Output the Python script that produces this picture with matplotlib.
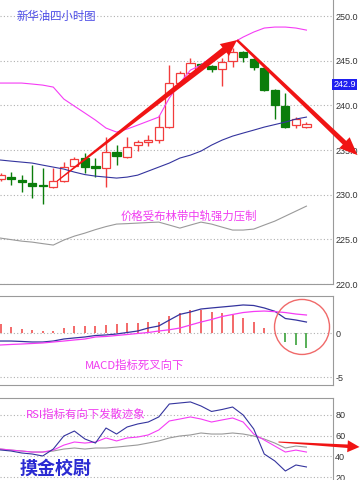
import matplotlib
matplotlib.use("Agg")
import matplotlib.pyplot as plt
import numpy as np
from matplotlib.patches import Polygon, Circle
from matplotlib.transforms import IdentityTransform, blended_transform_factory

plt.rcParams['font.family'] = ['Noto Sans CJK SC', 'DejaVu Sans']

# 4-hour candles
opens = [231.75, 231.97, 231.63, 231.30, 231.00, 230.85, 231.52, 233.20, 234.10, 233.20,
         232.98, 234.77, 234.21, 235.55, 235.89, 236.11, 237.57, 242.50, 243.62, 244.62,
         244.40, 244.06, 244.96, 245.97, 245.18, 244.18, 241.71, 239.92, 237.79, 237.57]
highs = [232.42, 232.53, 232.19, 233.31, 232.98, 232.98, 233.65, 234.20, 234.66, 234.10,
         236.45, 235.55, 236.45, 236.11, 236.67, 238.91, 244.51, 243.80, 245.30, 244.80,
         244.50, 245.30, 246.42, 246.10, 245.30, 244.30, 241.80, 241.38, 238.69, 238.13]
lows = [231.52, 231.08, 230.29, 229.62, 228.95, 230.74, 231.41, 233.10, 232.42, 231.97,
        230.85, 233.31, 234.10, 234.88, 235.44, 235.78, 237.46, 242.40, 243.50, 244.30,
        243.73, 242.16, 244.29, 244.85, 243.95, 241.60, 238.47, 237.46, 237.46, 237.46]
closes = [232.19, 231.75, 231.41, 230.96, 230.96, 231.52, 233.09, 233.99, 233.09, 232.98,
          234.77, 234.32, 235.33, 235.89, 236.11, 237.57, 242.50, 243.62, 244.74, 244.40,
          244.06, 244.85, 245.97, 245.41, 244.29, 241.71, 240.03, 237.57, 238.47, 237.91]

# bollinger bands
boll_upper = [242.50, 242.50, 242.50, 242.39, 242.27, 242.05, 240.71, 239.92, 239.14, 238.35,
              237.46, 237.01, 237.35, 237.79, 238.24, 238.69, 240.82, 242.50, 243.95, 244.51,
              245.41, 246.19, 246.98, 247.65, 248.21, 248.66, 248.77, 248.77, 248.66, 248.43]
boll_mid = [233.88, 233.76, 233.65, 233.54, 233.31, 233.09, 232.87, 232.53, 232.25, 232.08,
            231.97, 231.86, 231.97, 232.19, 232.64, 233.09, 233.54, 234.10, 234.43, 234.88,
            235.55, 236.11, 236.56, 236.90, 237.23, 237.57, 237.85, 238.13, 238.47, 238.69]
boll_lower = [225.14, 224.97, 224.80, 224.69, 224.52, 224.36, 224.92, 225.36, 225.70, 226.09,
              226.43, 226.71, 226.76, 226.82, 226.88, 226.93, 226.60, 226.26, 226.60, 226.93,
              226.71, 226.37, 226.04, 226.04, 226.15, 226.60, 227.04, 227.60, 228.16, 228.72]

# MACD
macd_hist = [1.00, 0.72, 0.49, 0.38, 0.26, 0.26, 0.60, 0.83, 0.83, 0.83,
             0.94, 1.06, 1.17, 1.17, 1.28, 1.28, 1.97, 2.30, 2.65, 2.65,
             2.42, 2.30, 2.08, 1.74, 1.28, 0.60, 0.05, -0.99, -1.33, -1.67]
macd_dif = [-0.88, -0.88, -0.93, -0.99, -0.99, -0.88, -0.65, -0.53, -0.42, -0.25,
            -0.19, -0.08, 0.09, 0.26, 0.60, 0.83, 1.50, 2.15, 2.42, 2.76,
            2.88, 2.99, 3.10, 3.22, 3.16, 2.88, 2.50, 1.68, 1.51, 1.28]
macd_dea = [-1.33, -1.27, -1.22, -1.16, -1.10, -0.99, -0.88, -0.76, -0.65, -0.42,
            -0.36, -0.25, -0.14, -0.02, 0.09, 0.26, 0.40, 0.60, 0.94, 1.28,
            1.57, 1.91, 2.14, 2.36, 2.48, 2.53, 2.46, 2.36, 2.19, 2.08]

# RSI
rsi6 = [46.2, 45.2, 43.3, 42.3, 40.4, 47.1, 59.7, 64.5, 56.8, 52.9,
        67.4, 61.6, 68.4, 71.3, 73.2, 78.1, 90.6, 91.6, 92.6, 88.7,
        83.4, 85.3, 87.7, 80.0, 66.5, 42.3, 35.6, 25.9, 31.7, 29.8]
rsi12 = [47.1, 46.1, 45.2, 44.2, 44.2, 46.1, 50.9, 53.9, 52.9, 53.9,
         57.8, 54.9, 57.8, 58.7, 60.7, 65.5, 74.2, 76.1, 78.1, 76.1,
         73.2, 75.2, 77.1, 73.2, 61.6, 55.8, 50.0, 44.2, 46.1, 44.2]
rsi24 = [47.1, 46.1, 45.2, 44.2, 44.2, 45.2, 47.1, 48.1, 47.1, 48.1,
         48.1, 49.0, 50.0, 51.0, 52.9, 54.9, 57.8, 59.7, 60.7, 62.6,
         61.6, 61.6, 62.6, 61.6, 59.7, 56.8, 52.9, 48.1, 50.0, 49.0]

price_ticks = [220, 225, 230, 235, 240, 245, 250]
macd_ticks = [-5, 0]
rsi_ticks = [20, 40, 60, 80]
last_price = 242.33
last_price_label = "242.9"

RED = '#f23c3c'
GREEN = '#0b7d0b'
MAG = '#f53cf5'
NAVY = '#34349e'
GREY = '#9a9a9a'
TXT_MAG = '#f03cf0'

fig = plt.figure(figsize=(3.6, 4.8), dpi=100)
W, H = 360.0, 480.0
ax = fig.add_axes([0, 1 - 284 / H, 332.5 / W, 284 / H])
ax_m = fig.add_axes([0, 1 - 385 / H, 332.5 / W, 89 / H])
ax_r = fig.add_axes([0, 0, 332.5 / W, 82 / H])

x = np.arange(len(opens))
o = np.array(opens)
c = np.array(closes)
up = c >= o

for a in (ax, ax_m, ax_r):
    a.set_xlim(-0.05, 31.47)
    a.set_xticks([])
    a.yaxis.tick_right()
    a.tick_params(axis='y', length=0, pad=2, labelsize=6.5, labelcolor='#333333')
    for lab in a.get_yticklabels():
        lab.set_family('Liberation Sans')
    a.spines['left'].set_visible(False)
    for s in ('right', 'top', 'bottom'):
        a.spines[s].set_color(GREY)
        a.spines[s].set_linewidth(0.8)
    a.grid(axis='y', color='#b0b0b0', linestyle=(0, (1, 2)), linewidth=0.8)
    a.set_axisbelow(True)

ax.spines['top'].set_visible(False)
ax_r.spines['bottom'].set_visible(False)

# price panel
ax.set_ylim(220, 251.8)
ax.set_yticks(price_ticks)
ax.set_yticklabels([f'{t:.1f}' for t in price_ticks], family='Liberation Sans')
cols = [RED if u else GREEN for u in up]
ax.vlines(x, lows, highs, colors=cols, linewidth=1, zorder=2)
body_h = np.maximum(np.abs(c - o), 0.08)
ax.bar(x, body_h, bottom=np.minimum(o, c), width=0.78,
       facecolor=['white' if u else GREEN for u in up], edgecolor=cols,
       linewidth=0.9, zorder=3)
ax.plot(x, boll_upper, color=MAG, lw=0.8, zorder=4)
ax.plot(x, boll_mid, color=NAVY, lw=0.8, zorder=4)
ax.plot(x, boll_lower, color=GREY, lw=0.8, zorder=4)

ax.text(1.56, 250, '新华油四小时图', color='#4a4ae6', fontsize=8.2, ha='left', va='center')
ax.text(11.42, 227.6, '价格受布林带中轨强力压制', color=TXT_MAG, fontsize=8.2, ha='left', va='center')
tr = blended_transform_factory(ax.transAxes, ax.transData)
ax.text(1.003, last_price, last_price_label, transform=tr, color='white', fontsize=6.5,
        family='Liberation Sans', ha='left', va='center', clip_on=False,
        bbox=dict(boxstyle='square,pad=0.15', facecolor='#1f1ff0', edgecolor='none'))

# MACD panel
ax_m.set_ylim(-5.88, 4.24)
ax_m.set_yticks(macd_ticks)
ax_m.set_yticklabels([str(t) for t in macd_ticks], family='Liberation Sans')
hist = np.array(macd_hist)
ax_m.vlines(x, 0, hist, colors=['#f04040' if v >= 0 else '#2a9a2a' for v in hist],
            linewidth=1.1, zorder=2)
ax_m.plot(x, macd_dif, color=NAVY, lw=0.9, zorder=3)
ax_m.plot(x, macd_dea, color=MAG, lw=0.9, zorder=3)
ax_m.text(8.0, -3.7, 'MACD指标死叉向下', color=TXT_MAG, fontsize=8.2, ha='left', va='center')

# RSI panel
ax_r.set_ylim(17.2, 96.4)
ax_r.set_yticks(rsi_ticks)
ax_r.set_yticklabels([str(t) for t in rsi_ticks], family='Liberation Sans')
ax_r.plot(x, rsi24, color=GREY, lw=0.8)
ax_r.plot(x, rsi12, color=MAG, lw=0.8)
ax_r.plot(x, rsi6, color=NAVY, lw=0.8)
ax_r.text(2.42, 81, 'RSI指标有向下发散迹象', color=TXT_MAG, fontsize=8.2, ha='left', va='center')
ax_r.text(1.85, 28.8, '摸金校尉', color='#2a2ad2', fontsize=13, fontweight='bold',
          ha='left', va='center')


def fat_arrow(a, start, end, w0, w1, head_len, head_w, color):
    p0 = a.transData.transform(start)
    p1 = a.transData.transform(end)
    d = (p1 - p0) / np.hypot(*(p1 - p0))
    n = np.array([-d[1], d[0]])
    pb = p1 - d * head_len
    pts = [p0 + n * w0 / 2, pb + n * w1 / 2, pb + n * head_w, p1,
           pb - n * head_w, pb - n * w1 / 2, p0 - n * w0 / 2]
    fig.add_artist(Polygon(pts, closed=True, transform=IdentityTransform(),
                           facecolor=color, edgecolor='none', zorder=10))


fat_arrow(ax, (5.36, 231.52), (22.42, 247.31), 1.2, 6.5, 16, 7.5, '#f01414')
fat_arrow(ax, (22.42, 247.31), (33.84, 234.43), 2.5, 5.0, 18, 7.5, '#f01414')
fat_arrow(ax_r, (26.35, 53.9), (34.03, 49.1), 1.0, 3.5, 12, 6, '#f01414')

cx, cy = ax_m.transData.transform((28.58, 0.72))
fig.add_artist(Circle((cx, cy), 27.5, transform=IdentityTransform(), facecolor='none',
                      edgecolor='#f06a6a', linewidth=1, zorder=10))

fig.savefig('out.png', dpi=100)
